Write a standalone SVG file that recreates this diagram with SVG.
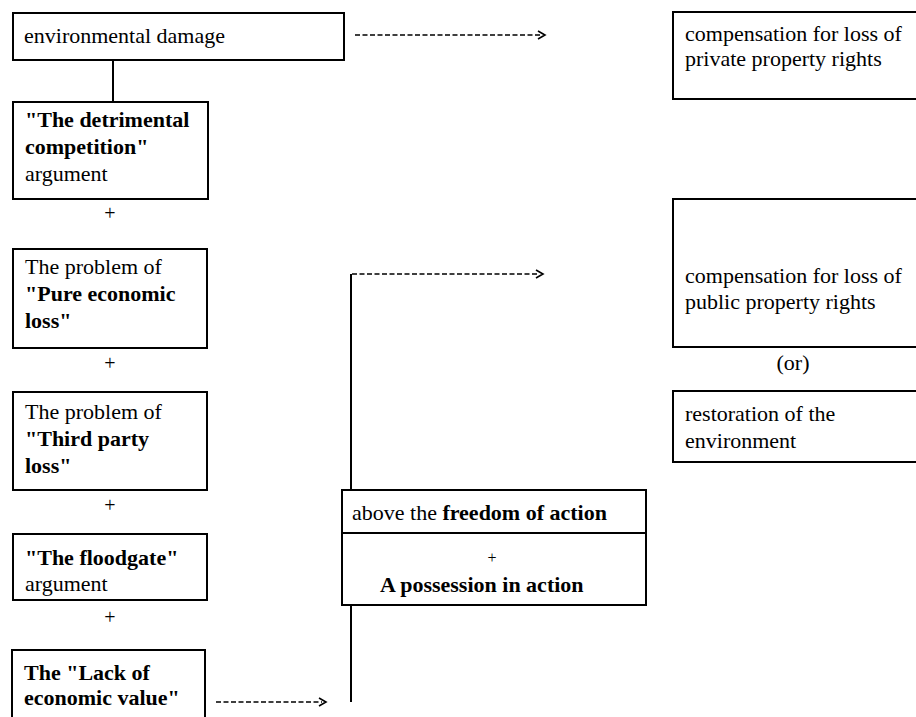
<svg xmlns="http://www.w3.org/2000/svg" width="916" height="717" viewBox="0 0 916 717">
  <defs>
    <style>
      .box { fill: #ffffff; stroke: #000000; stroke-width: 2; }
      .rule { stroke: #000000; stroke-width: 2; fill: none; }
      .dash { stroke: #000000; stroke-width: 1.6; stroke-dasharray: 5 2.5; fill: none; }
      .head { stroke: #000000; stroke-width: 1.6; fill: none; }
      text { font-family: "Liberation Serif", "Times New Roman", serif; font-size: 22px; fill: #000000; }
      .b { font-weight: bold; }
      .plus { font-size: 20px; text-anchor: middle; }
    </style>
  </defs>
  <rect width="916" height="717" fill="#ffffff"/>

  <!-- connectors -->
  <g id="connectors">
    <line class="rule" x1="113" y1="60" x2="113" y2="102"/>
    <line class="rule" x1="351" y1="274" x2="351" y2="702"/>
    <line class="dash" x1="355" y1="35" x2="541" y2="35"/>
    <polyline class="head" points="538,31 545,35 538,39"/>
    <line class="dash" x1="352" y1="274" x2="538" y2="274"/>
    <polyline class="head" points="536,270 543,274 536,278"/>
    <line class="dash" x1="216" y1="702" x2="322" y2="702"/>
    <polyline class="head" points="319,698 326,702 319,706"/>
  </g>

  <!-- left column -->
  <g id="environmental-damage">
    <rect class="box" x="13" y="13" width="331" height="47"/>
    <text x="24" y="43">environmental damage</text>
  </g>
  <g id="detrimental-competition">
    <rect class="box" x="13" y="102" width="195" height="97"/>
    <text x="25" y="127" class="b">"The detrimental</text>
    <text x="25" y="154" class="b">competition"</text>
    <text x="25" y="181">argument</text>
  </g>
  <text class="plus" x="110" y="220">+</text>
  <g id="pure-economic-loss">
    <rect class="box" x="13" y="249" width="194" height="99"/>
    <text x="25" y="274">The problem of</text>
    <text x="25" y="301" class="b">"Pure economic</text>
    <text x="25" y="328" class="b">loss"</text>
  </g>
  <text class="plus" x="110" y="370">+</text>
  <g id="third-party-loss">
    <rect class="box" x="13" y="392" width="194" height="98"/>
    <text x="25" y="419">The problem of</text>
    <text x="25" y="446" class="b">"Third party</text>
    <text x="25" y="473" class="b">loss"</text>
  </g>
  <text class="plus" x="110" y="512">+</text>
  <g id="floodgate">
    <rect class="box" x="13" y="534" width="194" height="66"/>
    <text x="25" y="565" class="b">"The floodgate"</text>
    <text x="25" y="591">argument</text>
  </g>
  <text class="plus" x="110" y="624">+</text>
  <g id="lack-of-economic-value">
    <rect class="box" x="12" y="650" width="193" height="80"/>
    <text x="24" y="680" class="b">The "Lack of</text>
    <text x="24" y="705" class="b">economic value"</text>
  </g>

  <!-- middle -->
  <g id="freedom-of-action">
    <rect class="box" x="342" y="490" width="304" height="115"/>
    <line class="rule" x1="342" y1="533" x2="646" y2="533"/>
    <text x="352" y="520">above the <tspan class="b">freedom of action</tspan></text>
    <text class="plus" x="492" y="563" style="font-size:16px">+</text>
    <text x="380" y="592" class="b">A possession in action</text>
  </g>

  <!-- right column -->
  <g id="private-property">
    <rect class="box" x="673" y="12" width="260" height="87"/>
    <text x="685" y="41">compensation for loss of</text>
    <text x="685" y="66">private property rights</text>
  </g>
  <g id="public-property">
    <rect class="box" x="673" y="199" width="260" height="148"/>
    <text x="685" y="283">compensation for loss of</text>
    <text x="685" y="309">public property rights</text>
  </g>
  <text x="793" y="370" text-anchor="middle">(or)</text>
  <g id="restoration">
    <rect class="box" x="673" y="391" width="260" height="71"/>
    <text x="685" y="421">restoration of the</text>
    <text x="685" y="448">environment</text>
  </g>
</svg>
